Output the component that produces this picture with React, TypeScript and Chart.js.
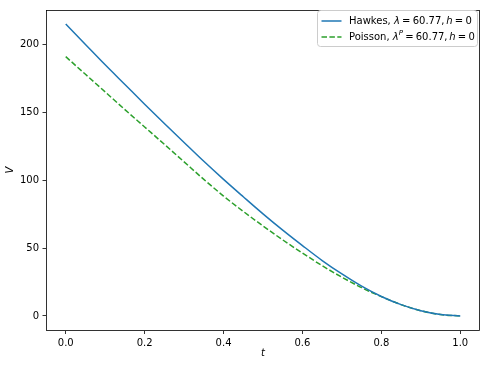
import React, { useEffect, useRef } from "react";
import { Chart, registerables } from "chart.js";

Chart.register(...registerables);

const tValues = [0, 0.05, 0.1, 0.15, 0.2, 0.25, 0.3, 0.35, 0.4, 0.45, 0.5, 0.55, 0.6, 0.65, 0.7, 0.75, 0.8, 0.85, 0.9, 0.95, 1.0];
const hawkesV = [215, 200, 185, 170.5, 156, 141.8, 127.8, 113.9, 100.6, 87.8, 75.2, 63.2, 51.8, 40.8, 30.9, 21.9, 14.3, 8.3, 3.8, 1.0, 0];
const poissonV = [191, 178, 165, 152, 139.2, 126.4, 113.5, 100.6, 88.3, 77, 66.3, 56, 46.3, 37, 28.5, 20.8, 14.2, 8.3, 3.8, 1.0, 0];
const xTicks = [0, 0.2, 0.4, 0.6, 0.8, 1.0];
const yTicks = [0, 50, 100, 150, 200];
const seriesNames = ["Hawkes", "Poisson"];

const BLUE = "#1f77b4";
const GREEN = "#2ca02c";
const FONT = "'DejaVu Sans', sans-serif";
const FS = 10;

type Part = { text: string; italic?: boolean; sup?: boolean; gap?: number };

const legendRows: { color: string; dash: number[]; parts: Part[] }[] = [
  {
    color: BLUE,
    dash: [],
    parts: [
      { text: seriesNames[0] + ", " },
      { text: "λ", italic: true, gap: 2.2 },
      { text: "=", gap: 2.2 },
      { text: "60.77,", gap: 1.8 },
      { text: "h", italic: true, gap: 2.2 },
      { text: "=", gap: 2.2 },
      { text: "0" },
    ],
  },
  {
    color: GREEN,
    dash: [5.5, 2.4],
    parts: [
      { text: seriesNames[1] + ", " },
      { text: "λ", italic: true },
      { text: "P", italic: true, sup: true, gap: 2.2 },
      { text: "=", gap: 2.2 },
      { text: "60.77,", gap: 1.8 },
      { text: "h", italic: true, gap: 2.2 },
      { text: "=", gap: 2.2 },
      { text: "0" },
    ],
  },
];

const framePlugin = {
  id: "mplFrame",
  afterDraw(chart: any) {
    const { ctx, chartArea: a } = chart;
    ctx.save();
    ctx.strokeStyle = "#000";
    ctx.lineWidth = 0.8;
    const L = Math.round(a.left) + 0.5;
    const T = Math.round(a.top) + 0.5;
    const R = Math.round(a.right) - 0.5;
    const B = Math.round(a.bottom) - 0.5;
    ctx.strokeRect(L, T, R - L, B - T);
    // axis titles
    ctx.fillStyle = "#000";
    ctx.font = "italic " + FS + "px " + FONT;
    ctx.textAlign = "center";
    ctx.textBaseline = "middle";
    ctx.fillText("t", (a.left + a.right) / 2, 353);
    ctx.save();
    ctx.translate(10, (a.top + a.bottom) / 2);
    ctx.rotate(-Math.PI / 2);
    ctx.fillText("V", 0, 0);
    ctx.restore();

    // legend
    const x0 = 317.5, y0 = 10.5, w = 160, h = 36, r = 3;
    ctx.beginPath();
    ctx.moveTo(x0 + r, y0);
    ctx.lineTo(x0 + w - r, y0);
    ctx.quadraticCurveTo(x0 + w, y0, x0 + w, y0 + r);
    ctx.lineTo(x0 + w, y0 + h - r);
    ctx.quadraticCurveTo(x0 + w, y0 + h, x0 + w - r, y0 + h);
    ctx.lineTo(x0 + r, y0 + h);
    ctx.quadraticCurveTo(x0, y0 + h, x0, y0 + h - r);
    ctx.lineTo(x0, y0 + r);
    ctx.quadraticCurveTo(x0, y0, x0 + r, y0);
    ctx.closePath();
    ctx.fillStyle = "rgba(255,255,255,0.8)";
    ctx.fill();
    ctx.strokeStyle = "#cccccc";
    ctx.lineWidth = 1;
    ctx.stroke();

    legendRows.forEach((row, i) => {
      const y = 21 + i * 16;
      ctx.beginPath();
      ctx.setLineDash(row.dash);
      ctx.strokeStyle = row.color;
      ctx.lineWidth = 1.5;
      ctx.moveTo(321.5, y);
      ctx.lineTo(341.5, y);
      ctx.stroke();
      ctx.setLineDash([]);
      let x = 349;
      ctx.fillStyle = "#000";
      ctx.textAlign = "left";
      ctx.textBaseline = "middle";
      row.parts.forEach((p) => {
        const size = p.sup ? 7 : FS;
        ctx.font = (p.italic ? "italic " : "") + size + "px " + FONT;
        ctx.fillText(p.text, x, p.sup ? y - 4 : y);
        x += ctx.measureText(p.text).width + (p.gap || 0);
      });
    });
    ctx.restore();
  },
};

export default function App() {
  const ref = useRef<HTMLCanvasElement | null>(null);
  useEffect(() => {
    document.body.style.margin = "0";
    if (!ref.current) return;
    const chart = new Chart(ref.current, {
      type: "line",
      data: {
        datasets: [
          {
            label: seriesNames[0],
            data: tValues.map((t, i) => ({ x: t, y: hawkesV[i] })),
            borderColor: BLUE,
            borderWidth: 1.5,
            pointRadius: 0,
            cubicInterpolationMode: "monotone",
            fill: false,
          },
          {
            label: seriesNames[1],
            data: tValues.map((t, i) => ({ x: t, y: poissonV[i] })),
            borderColor: GREEN,
            borderWidth: 1.5,
            borderDash: [5.5, 2.4],
            pointRadius: 0,
            cubicInterpolationMode: "monotone",
            fill: false,
          },
        ],
      },
      options: {
        animation: false,
        responsive: false,
        devicePixelRatio: 1,
        layout: { padding: { left: 0, right: 7, top: 7, bottom: 0 } },
        plugins: { legend: { display: false }, tooltip: { enabled: false } },
        scales: {
          x: {
            type: "linear",
            min: -0.05,
            max: 1.05,
            afterBuildTicks: (s: any) => {
              s.ticks = xTicks.map((v) => ({ value: v }));
            },
            afterFit: (s: any) => {
              s.height = 36.5;
            },
            grid: { drawOnChartArea: false, drawTicks: true, tickLength: 3.5, color: "#000", lineWidth: 0.8 },
            border: { display: false },
            ticks: {
              color: "#000",
              padding: 3.5,
              font: { family: FONT, size: FS },
              maxRotation: 0,
              callback: (v: any) => Number(v).toFixed(1),
            },
          },
          y: {
            type: "linear",
            min: -10.75,
            max: 225.75,
            afterBuildTicks: (s: any) => {
              s.ticks = yTicks.map((v) => ({ value: v }));
            },
            afterFit: (s: any) => {
              s.width = 46;
            },
            grid: { drawOnChartArea: false, drawTicks: true, tickLength: 3.5, color: "#000", lineWidth: 0.8 },
            border: { display: false },
            ticks: {
              color: "#000",
              padding: 3.5,
              font: { family: FONT, size: FS },
              callback: (v: any) => String(v),
            },
          },
        },
      },
      plugins: [framePlugin],
    });
    return () => chart.destroy();
  }, []);
  return (
    <div style={{ width: 487, height: 367 }}>
      <canvas ref={ref} width={487} height={367} style={{ display: "block", width: 487, height: 367 }} />
    </div>
  );
}
